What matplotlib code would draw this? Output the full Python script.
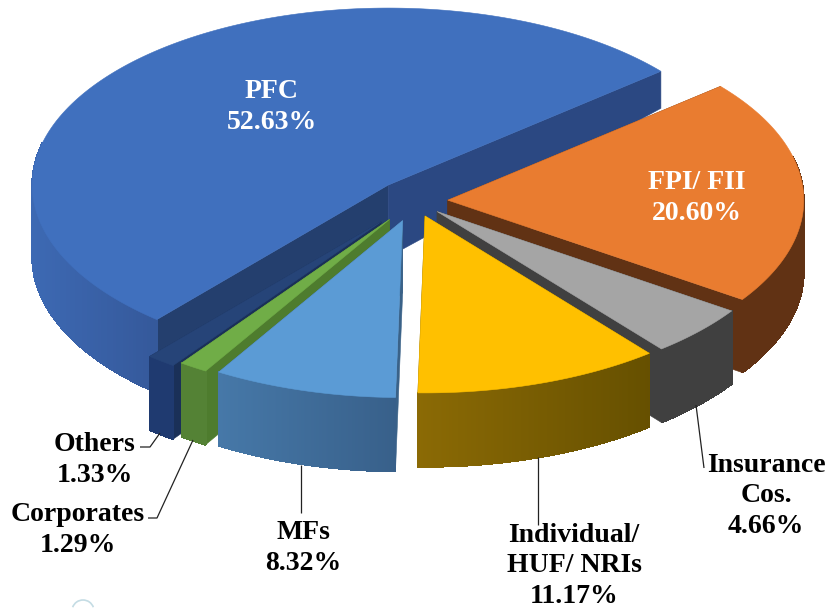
import numpy as np
import matplotlib
matplotlib.use('Agg')
import matplotlib.pyplot as plt
from matplotlib.patches import Polygon, Arc
from matplotlib.colors import to_rgb

# data, clockwise from the FPI slice
names = ["FPI/ FII", "Insurance\nCos.", "Individual/\nHUF/ NRIs", "MFs", "Corporates", "Others", "PFC"]
shares = [20.60, 4.66, 11.17, 8.32, 1.29, 1.33, 52.63]

# style of each slice
top_colors = ['#E97C30', '#A5A5A5', '#FFC000', '#5B9BD5', '#70AD47', '#264478', '#4070BE']
wall_left = ['#613214', '#404040', '#8B6A05', '#4678A8', '#548235', '#1F3A70', '#3D69B3']
wall_right = ['#613214', '#404040', '#665000', '#38608A', '#548235', '#1F3A70', '#35599B']
cut_start = ['#613214', '#404040', '#665000', '#3A6288', '#4E7C2E', '#1A3058', '#243F6E']
cut_end = ['#613214', '#404040', '#665000', '#3A6288', '#4E7C2E', '#1A3058', '#2B4882']
explode = [0.095, 0.088, 0.095, 0.115, 0.125, 0.15, 0.103]
lift = [0, 0, -1, 0, 0, 0, -3]
draw_order = [6, 5, 4, 0, 1, 2, 3]

# pie geometry in pixels
CX, CY = 414, 201
RX, RY = 356, 177
START = 40.0


def depth(y):
    # the picture has perspective, rim at the back is thinner
    return np.interp(y, [73, 185, 400], [37, 72, 74])


def mix(c1, c2, t):
    a, b = np.array(to_rgb(c1)), np.array(to_rgb(c2))
    return tuple(a + (b - a) * t)


fig = plt.figure(figsize=(8.29, 6.08), dpi=100)
ax = fig.add_axes([0, 0, 1, 1])
ax.set_xlim(0, 829)
ax.set_ylim(608, 0)
ax.axis('off')

sweeps = np.array(shares) / sum(shares) * 360
ends = START - np.cumsum(sweeps)
starts = ends + sweeps

for i in draw_order:
    a0, a1 = starts[i], ends[i]
    mid = np.radians((a0 + a1) / 2)
    ax0 = CX + explode[i] * RX * np.cos(mid)
    ay0 = CY - explode[i] * RY * np.sin(mid) + lift[i]
    t = np.radians(np.linspace(a0, a1, 240))
    xs = ax0 + RX * np.cos(t)
    ys = ay0 - RY * np.sin(t)

    # cut faces
    for (x, y), col in zip([(xs[0], ys[0]), (xs[-1], ys[-1])], [cut_start[i], cut_end[i]]):
        quad = [(ax0, ay0), (x, y), (x, y + depth(y)), (ax0, ay0 + depth(ay0))]
        ax.add_patch(Polygon(quad, closed=True, fc=col, ec=col, lw=0.4))

    # outer wall: base polygon for a smooth edge, gradient strips on top
    vis = np.where(np.sin(t) < 0.25)[0]
    if len(vis) > 1:
        x_lo, x_hi = xs[vis].min(), xs[vis].max()
        for run in np.split(vis, np.where(np.diff(vis) > 1)[0] + 1):
            low = [(xs[k], ys[k] + depth(ys[k])) for k in run[::-1]]
            base = list(zip(xs[run], ys[run])) + low
            ax.add_patch(Polygon(base, closed=True, fc=wall_right[i], ec=wall_right[i], lw=0.5))
            for k in run[:-1]:
                frac = (xs[k] - x_lo) / max(x_hi - x_lo, 1)
                col = mix(wall_left[i], wall_right[i], np.clip(frac, 0, 1))
                quad = [(xs[k], ys[k]), (xs[k + 1], ys[k + 1]),
                        (xs[k + 1], ys[k + 1] + depth(ys[k + 1])), (xs[k], ys[k] + depth(ys[k]))]
                ax.add_patch(Polygon(quad, closed=True, fc=col, ec=col, lw=0.6, antialiased=False))

    # top
    pts = [(ax0, ay0)] + list(zip(xs, ys))
    ax.add_patch(Polygon(pts, closed=True, fc=top_colors[i], ec=top_colors[i], lw=0.4))

# leader lines
leaders = [([140, 150, 160], [447, 447, 433]),
           ([148, 157, 193], [518, 518, 440]),
           ([301, 301], [465, 513]),
           ([538, 538], [457, 525]),
           ([696, 704], [405, 468])]
for lx, ly in leaders:
    ax.plot(lx, ly, color='#222222', lw=0.9, solid_capstyle='butt')

# labels
label_pos = [(697, 198), (766, 496), (574, 566), (303, 548), (78, 530), (95, 460), (272, 107)]
label_col = ['white', 'black', 'black', 'black', 'black', 'black', 'white']
for n, s, (x, y), c in zip(names, shares, label_pos, label_col):
    ax.text(x, y, f"{n}\n{s:.2f}%", ha='center', va='center', color=c, fontsize=20,
            fontweight='bold', family='Liberation Serif', linespacing=1.3)

# small scrap of another figure at the bottom edge
ax.add_patch(Arc((83, 611), 22, 22, theta1=200, theta2=340, color='#C4DCE4', lw=1.2))

fig.savefig('out.png', dpi=100)
